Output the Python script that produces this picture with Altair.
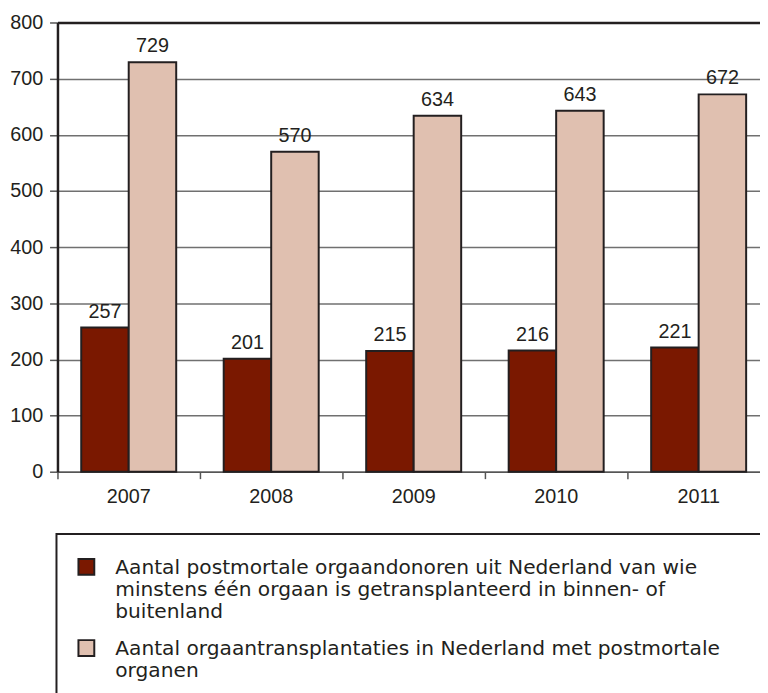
import altair as alt
import pandas as pd

years = ["2007", "2008", "2009", "2010", "2011"]
donors = [257, 201, 215, 216, 221]
transplants = [729, 570, 634, 643, 672]
series_lines = [
    ["Aantal postmortale orgaandonoren uit Nederland van wie",
     "minstens één orgaan is getransplanteerd in binnen- of",
     "buitenland"],
    ["Aantal orgaantransplantaties in Nederland met postmortale",
     "organen"],
]
series_names = ["\n".join(l) for l in series_lines]
colors = ["#7a1800", "#e0c0b0"]
y_ticks = [0, 100, 200, 300, 400, 500, 600, 700, 800]

rows = []
for i, y in enumerate(years):
    rows.append({"year": y, "series": series_names[0], "value": donors[i]})
    rows.append({"year": y, "series": series_names[1], "value": transplants[i]})
df = pd.DataFrame(rows)

DARK = "#231f20"
NUMFONT = "Liberation Sans"

x_enc = alt.X(
    "year:N",
    sort=years,
    scale=alt.Scale(range=[0, 720], paddingInner=0, paddingOuter=0),
    axis=alt.Axis(
        title=None, labelAngle=0, bandPosition=0,
        grid=False, domain=True, domainColor="#555555", domainWidth=1.5,
        ticks=True, tickColor="#555555", tickWidth=1.5, tickSize=7,
        labelPadding=8, labelFont=NUMFONT, labelFontSize=20, labelColor=DARK,
    ),
)
xoff = alt.XOffset(
    "series:N", sort=series_names,
    scale=alt.Scale(paddingOuter=0.5, paddingInner=0),
)
y_enc = alt.Y(
    "value:Q",
    scale=alt.Scale(domain=[0, 800], nice=False),
    axis=alt.Axis(
        title=None, values=y_ticks, grid=True,
        gridColor={"condition": {"test": "datum.value == 800", "value": DARK}, "value": "#707070"},
        gridWidth={"condition": {"test": "datum.value == 800", "value": 2.5}, "value": 1.5},
        domain=True, domainColor=DARK, domainWidth=2.5,
        tickColor="#555555", tickWidth=1.5, tickSize=8, labelPadding=7,
        labelFont=NUMFONT, labelFontSize=20, labelColor=DARK,
    ),
)

bars = alt.Chart(df).mark_bar(stroke=DARK, strokeWidth=2).encode(
    x=x_enc,
    xOffset=xoff,
    y=y_enc,
    color=alt.Color(
        "series:N", sort=series_names,
        scale=alt.Scale(domain=series_names, range=colors),
        legend=alt.Legend(
            title=None, orient="none", legendX=19, legendY=531,
            direction="vertical", symbolType="M-1,0.125H1V2.125H-1Z",
            symbolSize=256,
            symbolStrokeColor=DARK, symbolStrokeWidth=2, symbolOpacity=1,
            labelFont="DejaVu Sans", labelFontSize=20.4, labelColor=DARK,
            labelLimit=0, labelOffset=19, labelBaseline="top",
            labelExpr="split(datum.label, '\\n')", rowPadding=6,
        ),
    ),
)

labels = alt.Chart(df).mark_text(
    baseline="alphabetic", dy=-10, font=NUMFONT, fontSize=20, color=DARK
).encode(
    x=alt.X("year:N", sort=years),
    xOffset=alt.XOffset("series:N", sort=series_names),
    y="value:Q",
    text="value:Q",
)

box = alt.Chart(pd.DataFrame({"k": [0]})).mark_rect(
    fill=None, stroke=DARK, strokeWidth=2
).encode(
    x=alt.value(-1), x2=alt.value(740), y=alt.value(517), y2=alt.value(720)
)

chart = alt.layer(bars, labels, box).properties(
    width=710, height=454,
    autosize=alt.AutoSizeParams(type="none"),
    padding={"left": 50, "top": 11, "right": 0, "bottom": 220},
).configure(
    view=alt.ViewConfig(strokeWidth=0),
)

chart.save("out.html", embed_options={"renderer": "svg", "actions": False})
